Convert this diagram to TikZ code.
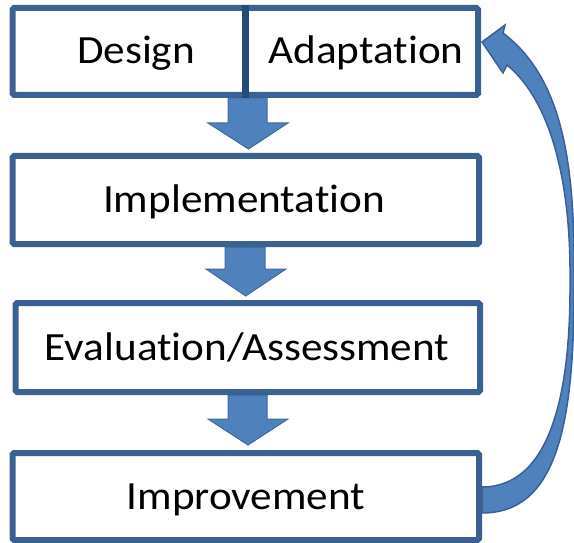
\documentclass[tikz,border=0pt]{standalone}
\usepackage{fontspec}
\setmainfont{Carlito}[FakeStretch=1.08,Ligatures={NoCommon,NoContextual}]
\usetikzlibrary{backgrounds,calc}
\definecolor{boxline}{HTML}{3B6193}
\definecolor{divline}{HTML}{24497B}
\definecolor{arrfill}{HTML}{4F81BD}
\definecolor{arrline}{HTML}{3D6B9F}
\begin{document}
\begin{tikzpicture}[x=1pt,y=-1pt,
  box/.style={draw=boxline, line width=6pt, rounded corners=1.5pt, fill=white, inner sep=0pt, anchor=center},
  lbl/.style={font=\fontsize{40}{48}\selectfont, anchor=base, inner sep=0pt},
  blk/.style={fill=arrfill, draw=arrline, line width=1pt, line join=miter}]
\useasboundingbox (0,0) rectangle (574,543);
% boxes
\node[box, minimum width=465.5pt, minimum height=87pt] (b1) at (245.25,51.5) {};
\node[box, minimum width=466.5pt, minimum height=88pt] (b2) at (245.75,200) {};
\node[box, minimum width=464.3pt, minimum height=89pt] (b3) at (247.85,347.5) {};
\node[box, minimum width=466.5pt, minimum height=87pt] (b4) at (245.75,496.5) {};
% divider
\coordinate (dv) at (245.5,0);
\draw[divline, line width=7pt] (dv |- b1.north) -- (dv |- b1.south);
% labels
\node[lbl] (t1) at (136,64) {Design};
\node[lbl] (t2) at (366,64) {Adaptat\kern0pt ion};
\node[lbl] (t3) at (244,212.5) {Implementat\kern0pt ion};
\node[lbl] (t4) at (247,360) {Evaluat\kern0pt ion/Assessment};
\node[lbl] (t5) at (246,509) {Improvement};
% arrows
\begin{scope}[on background layer]
\draw[blk] ([xshift=-17.25pt]b1.south) -- (228,123) -- (208,123) -- ([xshift=2.75pt,yshift=4pt]b2.north) -- (288,123) -- (267,123) -- ([xshift=21.75pt]b1.south) -- cycle;
\draw[blk] ([xshift=-20.75pt]b2.south) -- (225,269) -- (206,269) -- ([xshift=-2.15pt,yshift=4pt]b3.north) -- (286,269) -- (265,269) -- ([xshift=19.25pt]b2.south) -- cycle;
\draw[blk] ([xshift=-19.85pt]b3.south) -- (228,419) -- (208,419) -- ([xshift=2.25pt,yshift=5pt]b4.north) -- (288,419) -- (267,419) -- ([xshift=19.15pt]b3.south) -- cycle;
\draw[blk, draw=boxline, line width=1.5pt]
  ([yshift=9.5pt]b4.east) .. controls (548,487) and (571,400) .. (570,280)
  .. controls (571,180) and (550,100) .. (507,65)
  -- (503,73) -- (482,42) -- (505,25) -- (503,33)
  .. controls (565,80) and (575,170) .. (574,280)
  .. controls (575,430) and (555,513) .. ([yshift=-16.5pt]b4.east) -- cycle;
\end{scope}
\end{tikzpicture}
\end{document}
